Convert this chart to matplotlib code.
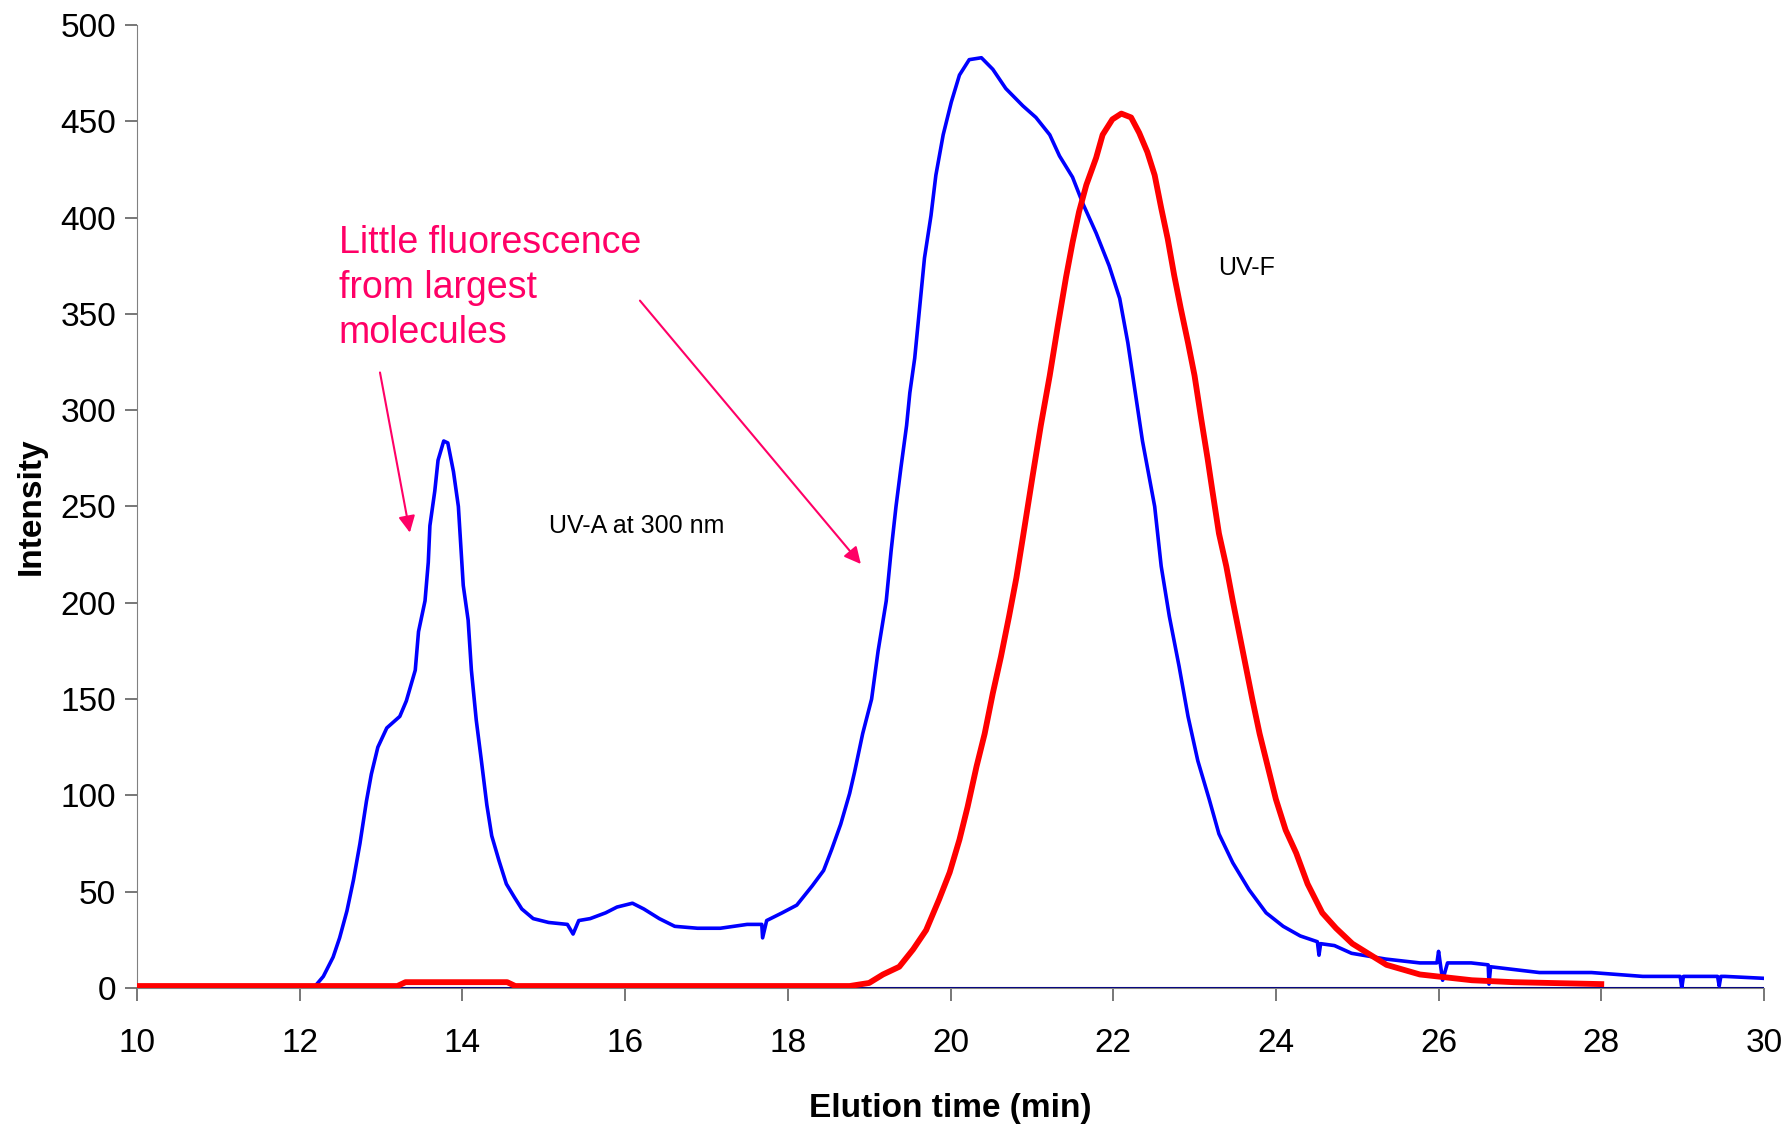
import numpy as np
import matplotlib.pyplot as plt

# UV-A at 300 nm (blue)
uva_t = [10.0, 11.0, 12.0, 12.17, 12.29, 12.41, 12.49, 12.58, 12.66, 12.74, 12.82, 12.88, 12.96,
         13.07, 13.23, 13.31, 13.42, 13.46, 13.54, 13.58, 13.60, 13.66, 13.70, 13.77, 13.82,
         13.89, 13.95, 14.01, 14.07, 14.11, 14.17, 14.23, 14.30, 14.36, 14.45, 14.54, 14.64,
         14.73, 14.87, 15.06, 15.29, 15.36, 15.43, 15.57, 15.76, 15.90, 16.09, 16.23, 16.42,
         16.61, 16.89, 17.17, 17.50, 17.68, 17.69, 17.74, 17.93, 18.11, 18.30, 18.44, 18.54,
         18.65, 18.76, 18.82, 18.92, 19.03, 19.11, 19.21, 19.27, 19.33, 19.39, 19.46, 19.50,
         19.56, 19.62, 19.68, 19.76, 19.82, 19.91, 20.01, 20.11, 20.23, 20.38, 20.52, 20.68,
         20.89, 21.05, 21.22, 21.34, 21.50, 21.63, 21.79, 21.95, 22.08, 22.18, 22.24, 22.30,
         22.36, 22.44, 22.51, 22.59, 22.69, 22.81, 22.92, 23.04, 23.18, 23.30, 23.47, 23.67,
         23.88, 24.09, 24.30, 24.51, 24.53, 24.55, 24.72, 24.93, 25.35, 25.77, 25.98, 26.0,
         26.05, 26.11, 26.40, 26.61, 26.62, 26.64, 27.24, 27.88, 28.51, 28.97, 28.99, 29.01,
         29.43, 29.45, 29.47, 29.52, 30.0]
uva_y = [0, 0, 0, 0, 6, 16, 26, 40, 56, 75, 97, 111, 125,
         135, 141, 149, 165, 185, 201, 221, 240, 258, 274, 284, 283,
         268, 250, 209, 191, 165, 139, 119, 95, 79, 66, 54, 47,
         41, 36, 34, 33, 28, 35, 36, 39, 42, 44, 41, 36,
         32, 31, 31, 33, 33, 26, 35, 39, 43, 53, 61, 72,
         85, 101, 112, 132, 150, 175, 201, 227, 250, 270, 292, 309,
         327, 353, 379, 401, 422, 443, 460, 474, 482, 483, 477, 467,
         458, 452, 443, 432, 421, 407, 392, 375, 358, 335, 318, 301,
         284, 266, 250, 219, 193, 167, 141, 118, 98, 80, 65, 51,
         39, 32, 27, 24, 17, 23, 22, 18, 15, 13, 13, 19,
         4, 13, 13, 12, 2, 11, 8, 8, 6, 6, 0, 6,
         6, 1, 6, 6, 5]

# UV-F (red)
uvf_t = [10.0, 13.2, 13.3, 14.55, 14.65, 18.76, 19.0, 19.17, 19.37, 19.54, 19.70, 19.86, 19.99,
         20.11, 20.21, 20.32, 20.42, 20.52, 20.62, 20.72, 20.81, 20.89, 21.01, 21.11, 21.22,
         21.32, 21.42, 21.50, 21.58, 21.67, 21.79, 21.87, 21.99, 22.10, 22.22, 22.32, 22.42,
         22.51, 22.59, 22.67, 22.75, 22.83, 22.92, 23.00, 23.08, 23.16, 23.22, 23.30, 23.39,
         23.47, 23.55, 23.63, 23.71, 23.80, 23.90, 24.00, 24.12, 24.25, 24.39, 24.57, 24.74,
         24.94, 25.36, 25.77, 26.41, 26.92, 28.0]
uvf_y = [1, 1, 3, 3, 1, 1, 2.6, 7, 11, 20, 30, 46, 60,
         77, 94, 115, 132, 153, 172, 193, 213, 234, 266, 292, 318,
         344, 369, 387, 403, 417, 431, 443, 451, 454, 452, 444, 434,
         422, 405, 389, 370, 353, 335, 318, 296, 275, 258, 236, 219,
         201, 184, 167, 150, 132, 115, 98, 82, 70, 54, 39, 31,
         23, 12, 7, 4, 3, 2]

xticks = [10, 12, 14, 16, 18, 20, 22, 24, 26, 28, 30]
yticks = [0, 50, 100, 150, 200, 250, 300, 350, 400, 450, 500]

sans = ['Liberation Sans', 'DejaVu Sans']
pink = '#FF0066'

fig = plt.figure(figsize=(17.87, 11.26), dpi=100)
ax = fig.add_axes([0.0767, 0.1226, 0.9104, 0.8552])

ax.plot([10, 30], [0, 0], color='#000080', lw=1.5, zorder=1)
ax.plot(uva_t, uva_y, color='#0000FF', lw=2.6, zorder=2)
ax.plot(uvf_t, uvf_y, color='#FF0000', lw=4.2, zorder=3)

ax.set_xlim(10, 30)
ax.set_ylim(0, 500)
ax.set_xticks(xticks)
ax.set_yticks(yticks)
for s in ['top', 'right']:
    ax.spines[s].set_visible(False)
for s in ['left', 'bottom']:
    ax.spines[s].set_color('#808080')
ax.tick_params(direction='out', length=9, width=1.2, color='#606060', labelsize=24)
ax.tick_params(axis='x', pad=20)
ax.tick_params(axis='y', pad=6)
for lab in ax.get_xticklabels() + ax.get_yticklabels():
    lab.set_family(sans)

ax.set_xlabel('Elution time (min)', fontsize=24, fontweight='bold', family=sans, labelpad=24)
ax.set_ylabel('Intensity', fontsize=24, fontweight='bold', family=sans, labelpad=10)

ax.text(12.48, 396, 'Little fluorescence\nfrom largest\nmolecules', color=pink, fontsize=27,
        family=sans, va='top', ha='left', linespacing=1.32)
ax.annotate('', xy=(13.36, 235), xytext=(12.98, 321),
            arrowprops=dict(arrowstyle='-|>', color=pink, lw=1.5, mutation_scale=25))
ax.annotate('', xy=(18.92, 219), xytext=(16.16, 358),
            arrowprops=dict(arrowstyle='-|>', color=pink, lw=1.5, mutation_scale=25))

ax.text(15.06, 240, 'UV-A at 300 nm', fontsize=18, family=sans, va='center', ha='left')
ax.text(23.29, 374, 'UV-F', fontsize=18, family=sans, va='center', ha='left')

fig.savefig('out.png', dpi=100)
